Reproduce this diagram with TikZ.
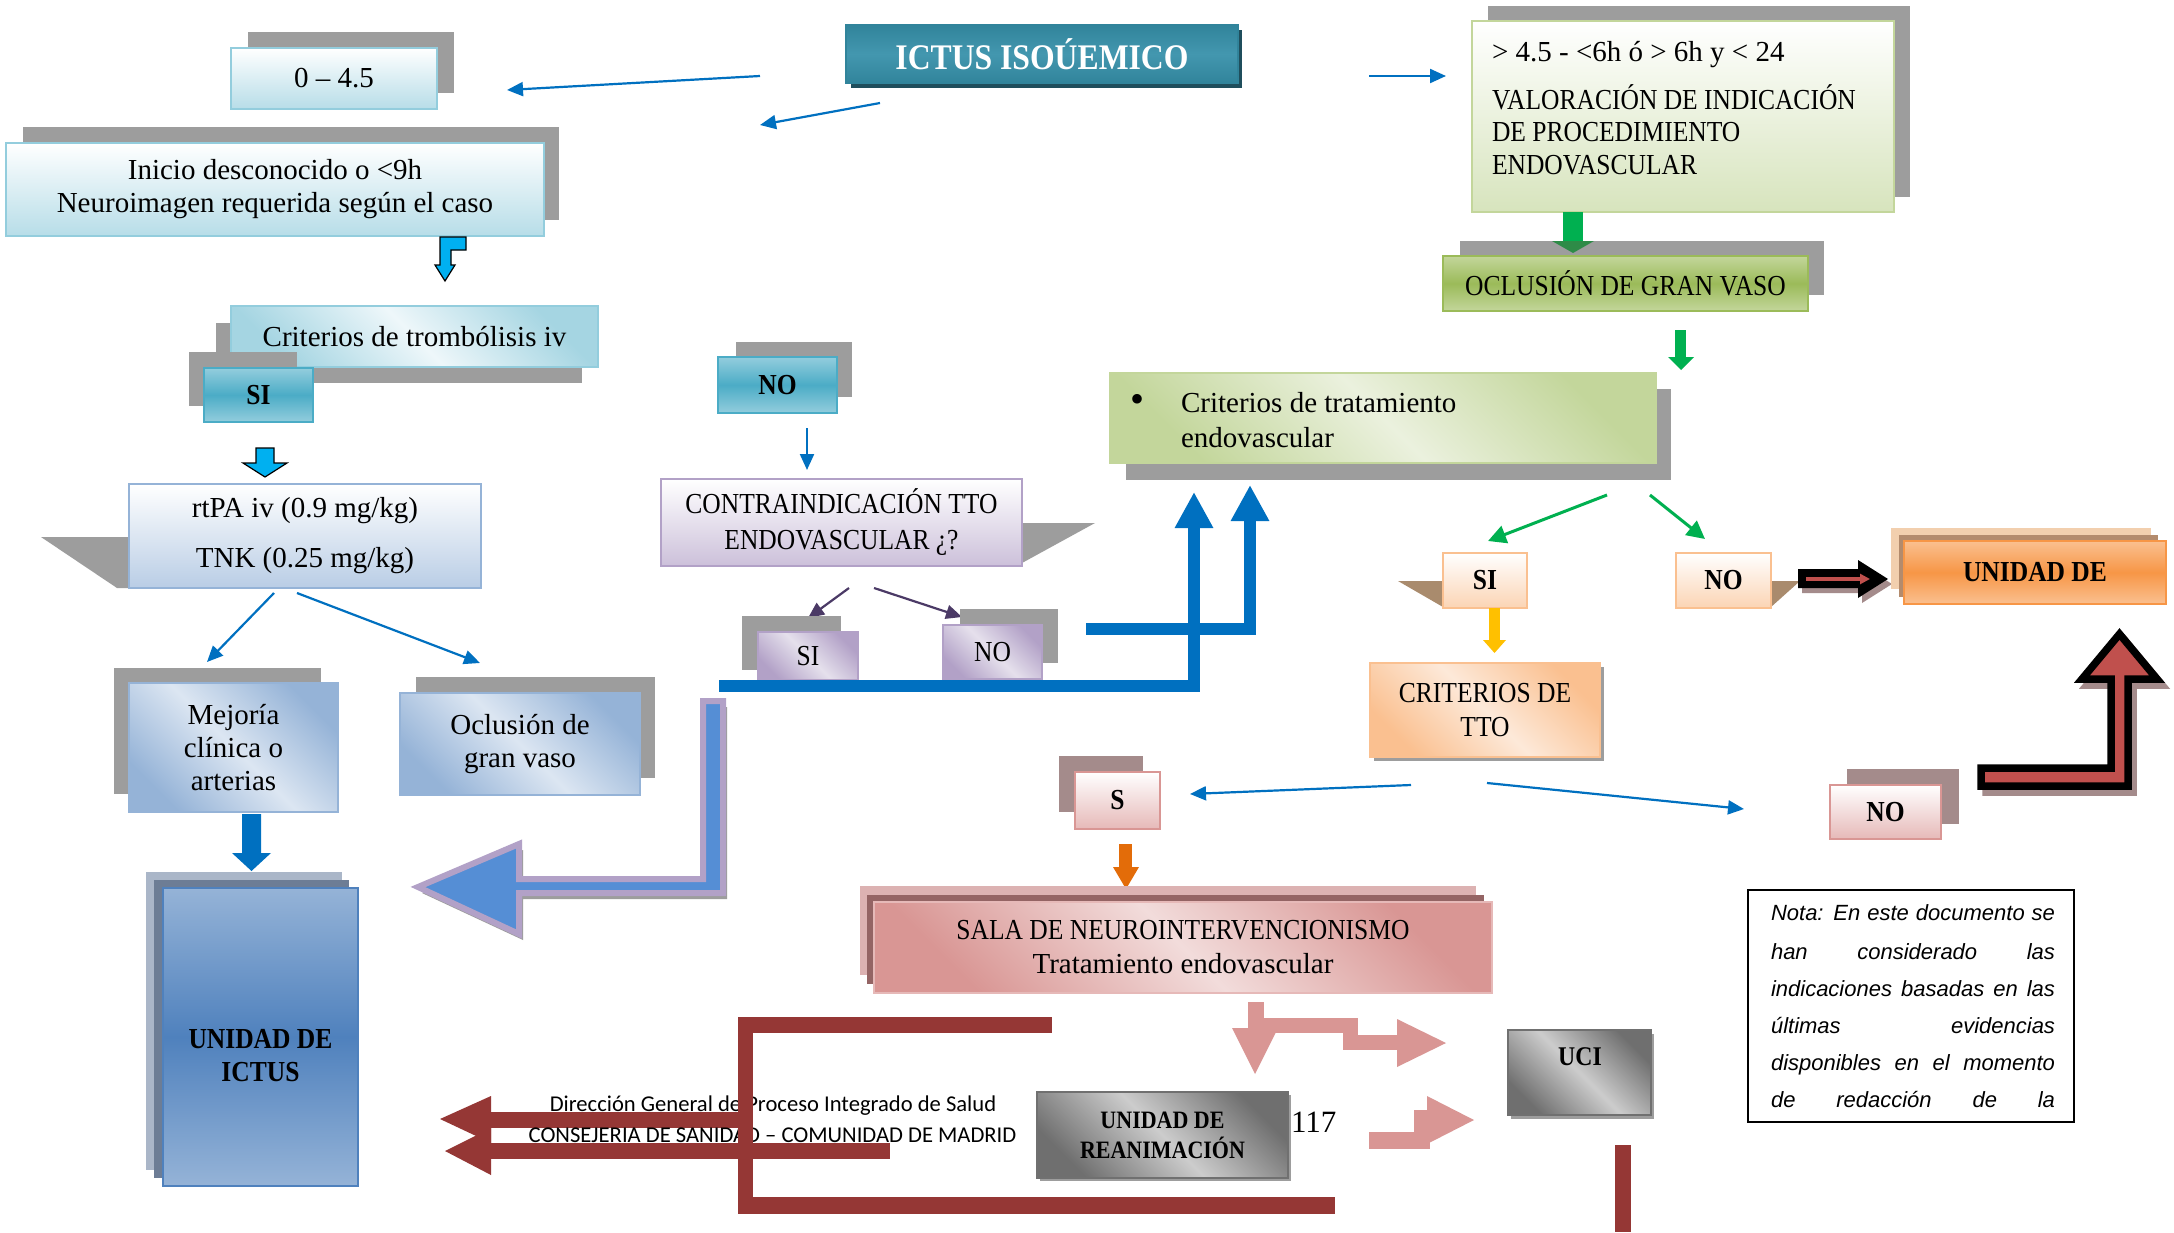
\documentclass[tikz,border=0pt]{standalone}
\usepackage{fontspec}
\setmainfont{Liberation Serif}
\newfontfamily\capsf[FakeStretch=0.88]{Liberation Serif}
\newfontfamily\notef{Liberation Sans}
\newfontfamily\footf{Carlito}
\usetikzlibrary{arrows.meta}
\definecolor{arrblue}{HTML}{0070C0}
\definecolor{shdg}{HTML}{9D9D9D}
\definecolor{pshd}{HTML}{A48B8B}
\definecolor{brshd}{HTML}{A98B6D}
\definecolor{lbluebd}{HTML}{93CDDD}
\definecolor{lbluebt}{HTML}{B7DDE8}
\definecolor{lbluec}{HTML}{A5D5E2}
\definecolor{lbluew}{HTML}{EEF7FA}
\definecolor{tealc}{HTML}{4BACC6}
\definecolor{teall}{HTML}{93CDDD}
\definecolor{titlec}{HTML}{31849B}
\definecolor{titlel}{HTML}{4397AF}
\definecolor{titlesh}{HTML}{1F4E5C}
\definecolor{cyanar}{HTML}{00B0F0}
\definecolor{bl1}{HTML}{95B3D7}
\definecolor{bl2}{HTML}{DCE6F2}
\definecolor{bl3}{HTML}{B9CDE5}
\definecolor{bl4}{HTML}{4F81BD}
\definecolor{blsh1}{HTML}{AAB6C8}
\definecolor{blsh2}{HTML}{6D7D95}
\definecolor{pur1}{HTML}{B2A1C7}
\definecolor{pur2}{HTML}{E5E0EC}
\definecolor{pur3}{HTML}{CCC0DA}
\definecolor{purar}{HTML}{4B3A66}
\definecolor{arblue2}{HTML}{558ED5}
\definecolor{gr1}{HTML}{C3D69B}
\definecolor{gr2}{HTML}{EBF1DE}
\definecolor{gr3}{HTML}{D7E4BD}
\definecolor{gr4}{HTML}{9BBB59}
\definecolor{grar}{HTML}{00B050}
\definecolor{grdk}{HTML}{2E8B47}
\definecolor{or1}{HTML}{FAC090}
\definecolor{or2}{HTML}{FBD4B4}
\definecolor{or3}{HTML}{F79646}
\definecolor{or4}{HTML}{FDE9D9}
\definecolor{orsh1}{HTML}{F2CFAE}
\definecolor{orsh2}{HTML}{B38B6D}
\definecolor{orar}{HTML}{E36C09}
\definecolor{yel}{HTML}{FFC000}
\definecolor{pk1}{HTML}{D99694}
\definecolor{pk2}{HTML}{E6B9B8}
\definecolor{pk3}{HTML}{F2DCDB}
\definecolor{pksh1}{HTML}{DCB2B2}
\definecolor{pksh2}{HTML}{946464}
\definecolor{gy1}{HTML}{6F6F6F}
\definecolor{gy2}{HTML}{CCCCCC}
\definecolor{gybd}{HTML}{707070}
\definecolor{dred}{HTML}{953735}
\definecolor{redar}{HTML}{C0504D}
\newcommand{\bodyfs}{\rmfamily\fontsize{14.5}{16.5}\selectfont}
\newcommand{\capfs}{\capsf\fontsize{14.5}{17}\selectfont}
\newcommand{\notefs}{\notef\itshape\fontsize{11}{13}\selectfont}
\tikzset{
 bx/.style={draw, line width=1.1pt, inner sep=0pt, align=center, font=\bodyfs},
 txt/.style={inner sep=0pt, outer sep=0pt},
 vgrad/.style 2 args={top color=#1, bottom color=#2},
 mgrad/.style 2 args={top color=#1, bottom color=#1, middle color=#2},
 dgrad/.style 2 args={top color=#1, bottom color=#1, middle color=#2, shading angle=-45},
 thinarr/.style={draw=arrblue, line width=1.1pt, -{Triangle[length=8pt,width=7pt]}},
 tbar/.style={draw=arrblue, line width=6pt, -{Triangle[length=18pt,width=18pt]}},
}
\begin{document}
\begin{tikzpicture}[x=0.5pt,y=-0.5pt]
\fill[white] (0,0) rectangle (2174,1232);
\useasboundingbox (0,0) rectangle (2174,1232);

% ---------- title
\fill[titlesh] (851,30) rectangle (1242,88);
\node[bx, draw=titlec, mgrad={titlec}{titlel}, minimum width=196pt, minimum height=29pt, text=white, font=\capsf\bfseries\fontsize{18}{20}\selectfont] (title) at (1042,54) {ICTUS ISOÚEMICO};
\path (760,76) coordinate (a1s) (507,90) coordinate (a1e)
      (880,103) coordinate (a2s) (760,125) coordinate (a2e)
      (1369,76) coordinate (a3s) (1446,76) coordinate (a3e);
\draw[thinarr] (a1s) -- (a1e);
\draw[thinarr] (a2s) -- (a2e);
\draw[thinarr] (a3s) -- (a3e);

% ---------- left column
\fill[shdg] (248,32) rectangle (454,93);
\node[bx, draw=lbluebd, vgrad={white}{lbluebt}, minimum width=103pt, minimum height=30.5pt] (b045) at (334,78.5) {0 – 4.5};
\fill[shdg] (23,127) rectangle (559,220);
\node[bx, draw=lbluebd, vgrad={white}{lbluebt}, minimum width=269pt, minimum height=46.5pt] (inicio) at (275,189.5) {Inicio desconocido o <9h\\Neuroimagen requerida según el caso};
\filldraw[fill=cyanar, draw=black, line width=0.6pt] (440,237) -- (466,237) -- (466,250) -- (451,250) -- (451,265) -- (455,265) -- (445,281) -- (435,265) -- (440,265) -- cycle;

\fill[shdg] (216,323) rectangle (582,383);
\node[bx, draw=lbluebd, dgrad={lbluec}{lbluew}, minimum width=183.5pt, minimum height=30.5pt] (crtr) at (414.5,336.5) {Criterios de trombólisis iv};
\fill[shdg] (189,352) rectangle (297,406);
\node[bx, draw=tealc, mgrad={teall}{tealc}, minimum width=54.5pt, minimum height=27pt, font=\capfs\bfseries] (si1) at (258.5,395) {SI};
\filldraw[fill=cyanar, draw=black, line width=0.6pt] (256,448) -- (274,448) -- (274,463) -- (287,463) -- (265,477) -- (243,463) -- (256,463) -- cycle;

\fill[shdg] (41,537) -- (129,537) -- (129,588) -- (117,588) -- cycle;
\node[bx, draw=bl1, vgrad={white}{bl3}, minimum width=176pt, minimum height=52pt] (rtpa) at (305,536) {rtPA iv (0.9 mg/kg)\\[8.5pt]TNK (0.25 mg/kg)};
\path (274,593) coordinate (a4s) (207,662) coordinate (a4e)
      (297,593) coordinate (a5s) (480,663) coordinate (a5e);
\draw[thinarr] (a4s) -- (a4e);
\draw[thinarr] (a5s) -- (a5e);

\fill[shdg] (114,668) rectangle (321,794);
\node[bx, draw=bl1, dgrad={bl1}{bl2}, minimum width=104.5pt, minimum height=64.5pt] (mej) at (233.5,747.5) {Mejoría\\clínica o\\arterias};
\fill[shdg] (416,677) rectangle (655,778);
\node[bx, draw=bl1, dgrad={bl1}{bl2}, minimum width=120pt, minimum height=51pt] (ocl) at (520,744) {Oclusión de\\gran vaso};
\fill[arrblue] (242,814) -- (261,814) -- (261,853) -- (271,853) -- (251.5,871) -- (232,853) -- (242,853) -- cycle;

\fill[blsh1] (146,872) rectangle (342,1170);
\fill[blsh2] (154,880) rectangle (349,1178);
\node[bx, draw=bl4, mgrad={bl1}{bl4}, minimum width=97.5pt, minimum height=149pt] (uict) at (260.5,1037) {};
\node[txt, align=center, font=\capsf\bfseries\fontsize{14.5}{16.5}\selectfont] (uictt) at (260.5,1056) {UNIDAD DE\\ICTUS};

% big purple bent arrow
\fill[shdg, shift={(4,6)}] (703,701) -- (723,701) -- (723,893) -- (519,893) -- (519,934) -- (418,887) -- (519,844) -- (519,879) -- (703,879) -- cycle;
\filldraw[fill=arblue2, draw=pur1, line width=3pt, miter limit=20] (703,701) -- (723,701) -- (723,893) -- (519,893) -- (519,934) -- (418,887) -- (519,844) -- (519,879) -- (703,879) -- cycle;

% ---------- middle column
\fill[shdg] (736,342) rectangle (852,397);
\node[bx, draw=tealc, mgrad={teall}{tealc}, minimum width=59.5pt, minimum height=28pt, font=\capfs\bfseries] (no1) at (777.5,385) {NO};
\path (807,428) coordinate (a6s) (807,470) coordinate (a6e);
\draw[thinarr] (a6s) -- (a6e);
\fill[shdg] (1022,523) -- (1095,523) -- (1022,563) -- cycle;
\node[bx, draw=pur1, vgrad={white}{pur3}, minimum width=180.5pt, minimum height=43.5pt, font=\capfs] (contra) at (841.5,522.5) {CONTRAINDICACIÓN TTO\\[1pt]ENDOVASCULAR ¿?};
\path (849,588) coordinate (a7s) (808,618) coordinate (a7e)
      (874,588) coordinate (a8s) (962,617) coordinate (a8e);
\draw[draw=purar, line width=1.1pt, -{Triangle[length=8pt,width=7pt]}] (a7s) -- (a7e);
\draw[draw=purar, line width=1.1pt, -{Triangle[length=8pt,width=7pt]}] (a8s) -- (a8e);
\fill[shdg] (742,616) rectangle (841,670);
\node[bx, draw=pur1, dgrad={pur1}{pur2}, minimum width=50pt, minimum height=24pt, font=\capfs] (si2) at (808,656) {SI};
\fill[shdg] (960,609) rectangle (1058,663);
\node[bx, draw=pur1, dgrad={pur1}{pur2}, minimum width=49.5pt, minimum height=27pt, font=\capfs] (no2) at (992.5,652) {NO};
\path (719,686) coordinate (t1s) (1194,686) coordinate (t1c) (1194,492) coordinate (t1e)
      (1086,628.5) coordinate (t2s) (1250,628.5) coordinate (t2c) (1250,485) coordinate (t2e);
\draw[tbar] (t1s) -- (t1c) -- (t1e);
\draw[tbar] (t2s) -- (t2c) -- (t2e);

% ---------- right column (green)
\fill[shdg] (1488,6) rectangle (1910,197);
\node[bx, draw=gr1, vgrad={white}{gr3}, minimum width=211pt, minimum height=95.5pt] (valor) at (1683,116.5) {};
\node[txt, anchor=base west, font=\bodyfs] (v1) at (1492,61) {> 4.5 - <6h ó > 6h y < 24};
\node[txt, anchor=base west, font=\capfs] (v2) at (1492,109) {VALORACIÓN DE INDICACIÓN};
\node[txt, anchor=base west, font=\capfs] (v3) at (1492,141) {DE PROCEDIMIENTO};
\node[txt, anchor=base west, font=\capfs] (v4) at (1492,174) {ENDOVASCULAR};
\fill[shdg] (1460,241) rectangle (1824,295);
\fill[grar] (1563,212) rectangle (1583,242);
\fill[grdk] (1552,241) -- (1594,241) -- (1573,253) -- cycle;
\node[bx, draw=gr4, mgrad={gr1}{gr4}, minimum width=182.5pt, minimum height=27.5pt, font=\capfs] (oclg) at (1625.5,283.5) {OCLUSIÓN DE GRAN VASO};
\fill[grar] (1675,330) rectangle (1686,358);
\fill[grar] (1668,357) -- (1694,357) -- (1681,370) -- cycle;
\fill[shdg] (1126,389) rectangle (1671,480);
\node[bx, draw=gr1, dgrad={gr1}{gr2}, minimum width=273pt, minimum height=45pt] (critg) at (1383,418) {};
\node[txt, font=\rmfamily\fontsize{20}{20}\selectfont] (bul) at (1137,403) {•};
\node[txt, anchor=west, align=left, font=\rmfamily\fontsize{14.5}{17.5}\selectfont] (critgt) at (1181,420.5) {Criterios de tratamiento\\endovascular};
\path (1607,495) coordinate (a9s) (1488,541) coordinate (a9e)
      (1650,495) coordinate (a10s) (1705,539) coordinate (a10e);
\draw[draw=grar, line width=1.5pt, -{Triangle[length=9pt,width=9pt]}] (a9s) -- (a9e);
\draw[draw=grar, line width=1.5pt, -{Triangle[length=9pt,width=9pt]}] (a10s) -- (a10e);

% ---------- orange
\fill[brshd] (1398,581) -- (1443,581) -- (1443,607) -- cycle;
\node[bx, draw=or1, vgrad={white}{or2}, minimum width=42pt, minimum height=27.5pt, font=\capfs\bfseries] (si3) at (1485,580.5) {SI};
\fill[brshd] (1771,581) -- (1800,581) -- (1771,607) -- cycle;
\node[bx, draw=or1, vgrad={white}{or2}, minimum width=47.5pt, minimum height=27.5pt, font=\capfs\bfseries] (no3) at (1723.5,580.5) {NO};
\fill[pshd, shift={(4,5)}] (1798,569) -- (1858,569) -- (1858,560) -- (1888,579) -- (1858,598) -- (1858,588) -- (1798,588) -- cycle;
\fill[black] (1798,569) -- (1858,569) -- (1858,560) -- (1888,579) -- (1858,598) -- (1858,588) -- (1798,588) -- cycle;
\draw[draw=redar, line width=2pt, -{Triangle[length=5pt,width=5pt]}] (1806,579) -- (1870,579);
\fill[orsh1] (1891,528) rectangle (2151,589);
\fill[orsh2] (1899,535) rectangle (2158,597);
\node[bx, draw=or3, mgrad={or1}{or3}, minimum width=131pt, minimum height=31.5pt, font=\capfs\bfseries] (udo) at (2035,572.5) {UNIDAD DE};
\filldraw[pshd, line width=3.75pt, shift={(5,6)}] (1981,768) -- (2111,768) -- (2111,679) -- (2082,679) -- (2119.5,634) -- (2157,679) -- (2128,679) -- (2128,786) -- (1981,786) -- cycle;
\filldraw[fill=redar, draw=black, line width=3.75pt] (1981,768) -- (2111,768) -- (2111,679) -- (2082,679) -- (2119.5,634) -- (2157,679) -- (2128,679) -- (2128,786) -- (1981,786) -- cycle;
\fill[yel] (1489,608) rectangle (1500,641);
\fill[yel] (1483,640) -- (1506,640) -- (1494.5,653) -- cycle;
\fill[shdg] (1374,667) rectangle (1604,761);
\node[bx, draw=or1, dgrad={or1}{or4}, minimum width=115pt, minimum height=47pt, font=\capfs] (crtto) at (1485,710) {CRITERIOS DE\\TTO};
\path (1411,785) coordinate (a11s) (1190,794) coordinate (a11e)
      (1487,783) coordinate (a12s) (1744,809) coordinate (a12e);
\draw[thinarr] (a11s) -- (a11e);
\draw[thinarr] (a12s) -- (a12e);

% ---------- pink
\fill[pshd] (1059,756) rectangle (1143,812);
\node[bx, draw=pk1, vgrad={white}{pk2}, minimum width=42.5pt, minimum height=28.5pt, font=\capfs\bfseries] (s1) at (1117.5,800.5) {S};
\fill[pshd] (1847,769) rectangle (1959,824);
\node[bx, draw=pk1, vgrad={white}{pk2}, minimum width=55.5pt, minimum height=27pt, font=\capfs\bfseries] (no4) at (1885.5,812) {NO};
\fill[orar] (1119,844) rectangle (1132,868);
\fill[orar] (1113,867) -- (1139,867) -- (1126,889) -- cycle;
\fill[pksh1] (860,886) rectangle (1476,975);
\fill[pksh2] (867,895) rectangle (1484,984);
\node[bx, draw=pk2, dgrad={pk1}{pk3}, minimum width=309pt, minimum height=45.5pt, font=\capfs] (sala) at (1183,947.5) {SALA DE NEUROINTERVENCIONISMO\\\bodyfs Tratamiento endovascular};
% pink split arrows
\fill[pk1] (1248,1002) rectangle (1264,1030);
\fill[pk1] (1232,1028) -- (1278,1028) -- (1255,1074) -- cycle;
\fill[pk1] (1264,1018) rectangle (1358,1033);
\fill[pk1] (1343,1033) rectangle (1358,1050);
\fill[pk1] (1343,1035) rectangle (1398,1050);
\fill[pk1] (1397,1019) -- (1397,1067) -- (1446,1043) -- cycle;
\fill[pk1] (1369,1132) rectangle (1430,1149);
\fill[pk1] (1414,1110) rectangle (1430,1132);
\fill[pk1] (1427,1096) -- (1427,1144) -- (1474,1120) -- cycle;

% ---------- gray boxes
\fill[shdg] (1511,1034) rectangle (1654,1119);
\node[bx, draw=gybd, dgrad={gy1}{gy2}, minimum width=71.5pt, minimum height=42.5pt] (uci) at (1579.5,1072.5) {};
\node[txt, font=\capsf\bfseries\fontsize{13.5}{15}\selectfont] (ucit) at (1580,1057) {UCI};
\fill[shdg] (1040,1095) rectangle (1291,1181);
\node[bx, draw=gybd, dgrad={gy1}{gy2}, minimum width=125.5pt, minimum height=43pt, font=\capsf\bfseries\fontsize{12.5}{15}\selectfont] (rean) at (1162.5,1135) {UNIDAD DE\\REANIMACIÓN};
\node[txt, anchor=west, font=\rmfamily\fontsize{15.5}{17}\selectfont] (n117) at (1291,1122) {117};

% ---------- dark red bars and footer
\fill[dred] (491,1112) rectangle (745,1128);
\fill[dred] (491,1096) -- (491,1143) -- (440,1119) -- cycle;
\fill[dred] (491,1143) rectangle (890,1159);
\fill[dred] (491,1128) -- (491,1175) -- (445,1151) -- cycle;
\node[txt, font=\footf\fontsize{11.3}{13}\selectfont] (ft1) at (773,1106) {Dirección General de Proceso Integrado de Salud};
\node[txt, font=\footf\fontsize{11.3}{13}\selectfont] (ft2) at (772.5,1135) {CONSEJERIA DE SANIDAD – COMUNIDAD DE MADRID};
\fill[dred] (738,1017) rectangle (1052,1033);
\fill[dred] (738,1017) rectangle (753,1214);
\fill[dred] (738,1197) rectangle (1335,1214);
\fill[dred] (1615,1145) rectangle (1631,1232);

% ---------- note
\node[draw=black, line width=1pt, minimum width=163pt, minimum height=116pt, inner sep=0pt] (nota) at (1911,1006) {};
\node[txt, anchor=base west, font=\notefs] (nt1) at (1771,920) {\makebox[142pt][s]{Nota: En este documento se}};
\node[txt, anchor=base west, font=\notefs] (nt2) at (1771,959) {\makebox[142pt][s]{han considerado las}};
\node[txt, anchor=base west, font=\notefs] (nt3) at (1771,996) {\makebox[142pt][s]{indicaciones basadas en las}};
\node[txt, anchor=base west, font=\notefs] (nt4) at (1771,1033) {\makebox[142pt][s]{últimas evidencias}};
\node[txt, anchor=base west, font=\notefs] (nt5) at (1771,1070) {\makebox[142pt][s]{disponibles en el momento}};
\node[txt, anchor=base west, font=\notefs] (nt6) at (1771,1107) {\makebox[142pt][s]{de redacción de la}};
\end{tikzpicture}
\end{document}
